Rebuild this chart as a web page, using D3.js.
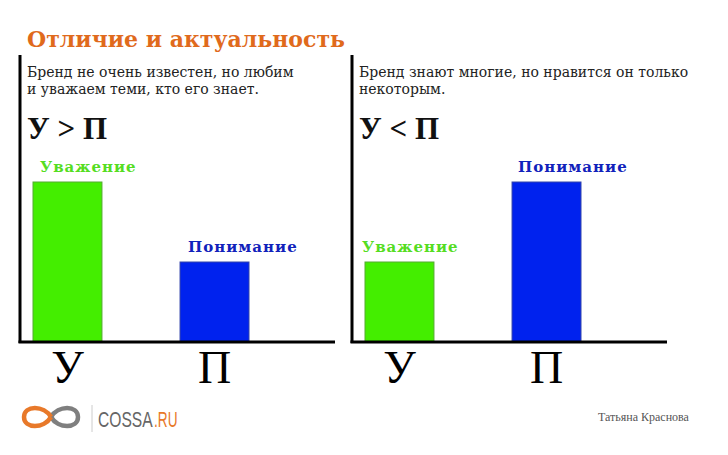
<!DOCTYPE html>
<html><head><meta charset="utf-8">
<script src="https://cdn.jsdelivr.net/npm/d3@7"></script>
<style>body{margin:0;background:#fff}svg{display:block}</style>
</head><body>
<script>
const categories = ["У", "П"];
const seriesNames = ["Уважение", "Понимание"];
const leftValues = [2, 1];
const rightValues = [1, 2];
const title = "Отличие и актуальность";
const leftText = ["Бренд не очень известен, но любим", "и уважаем теми, кто его знает."];
const rightText = ["Бренд знают многие, но нравится он только", "некоторым."];
const leftFormula = "У > П";
const rightFormula = "У < П";
const author = "Татьяна Краснова";

const W = 728, H = 455;
const svg = d3.select("body").append("svg").attr("width", W).attr("height", H);
const serif = "'DejaVu Serif', serif";
const times = "'Liberation Serif', serif";
const barColors = ["#44ee00", "#0022ee"];
const labelColors = ["#55dd22", "#1122bb"];

svg.append("text").attr("x", 27).attr("y", 47).attr("font-family", serif).attr("font-weight", "bold")
  .attr("font-size", 22).attr("fill", "#e06a1c").text(title);

const y = d3.scaleLinear().domain([0, 2]).range([342, 182]);

function panel(x0, texts, formula, values, axisRight, labelOffsets) {
  const g = svg.append("g");
  const x = d3.scaleBand().domain(categories).range([x0, x0 + 242]).paddingInner(0.531).paddingOuter(0.0884);
  texts.forEach((t, i) => g.append("text").attr("x", x0 + 7).attr("y", 77 + i * 17)
    .attr("font-family", serif).attr("font-size", 14).attr("fill", "#222").text(t));
  g.append("text").attr("x", x0 + 7).attr("y", 139).attr("font-family", times).attr("font-weight", "bold")
    .attr("font-size", 31).attr("fill", "#111").text(formula);
  g.selectAll("rect").data(values).join("rect")
    .attr("x", (d, i) => x(categories[i])).attr("width", x.bandwidth())
    .attr("y", d => y(d)).attr("height", d => y(0) - y(d))
    .attr("fill", (d, i) => barColors[i]).attr("stroke", (d,i)=> i? "#3344aa":"#55aa33").attr("stroke-width", 1);
  g.selectAll("text.lab").data(values).join("text").attr("class", "lab")
    .attr("x", (d, i) => x(categories[i]) + labelOffsets[i]).attr("y", d => y(d) - 10)
    .attr("font-family", serif).attr("font-weight", "bold").attr("font-size", 15).attr("letter-spacing", 1)
    .attr("fill", (d, i) => labelColors[i]).text((d, i) => seriesNames[i]);
  g.append("line").attr("x1", x0).attr("x2", x0).attr("y1", 55).attr("y2", 343).attr("stroke", "#000").attr("stroke-width", 3);
  g.append("line").attr("x1", x0 - 1.5).attr("x2", axisRight).attr("y1", y(0)).attr("y2", y(0)).attr("stroke", "#000").attr("stroke-width", 3);
  g.selectAll("text.cat").data(categories).join("text").attr("class", "cat")
    .attr("x", d => x(d) + x.bandwidth() / 2).attr("y", 383).attr("text-anchor", "middle")
    .attr("font-family", times).attr("font-size", 46).attr("fill", "#000").text(d => d);
}
panel(20, leftText, leftFormula, leftValues, 335, [7, 8]);
panel(352, rightText, rightFormula, rightValues, 667, [-3, 6]);

// logo
const lg = svg.append("g");
lg.append("path").attr("d", "M51,417 C58,405 78,405 78,417 C78,429 58,429 51,417")
  .attr("fill", "none").attr("stroke", "#7f7f7f").attr("stroke-width", 4.5);
lg.append("path").attr("d", "M51,417 C44,405 24,405 24,417 C24,429 44,429 51,417")
  .attr("fill", "none").attr("stroke", "#e8792a").attr("stroke-width", 4.5);
lg.append("line").attr("x1", 92).attr("x2", 92).attr("y1", 405).attr("y2", 432).attr("stroke", "#ccc").attr("stroke-width", 1);
const sans = "'Liberation Sans', sans-serif";
lg.append("text").attr("transform", "translate(98,427) scale(0.71,1)").attr("font-family", sans).attr("font-size", 22)
  .attr("fill", "#666").text("COSSA");
lg.append("text").attr("transform", "translate(154,427) scale(0.62,1)").attr("font-family", sans).attr("font-size", 22)
  .attr("fill", "#e8792a").text(".RU");

svg.append("text").attr("x", 598).attr("y", 421).attr("font-family", times).attr("font-size", 12)
  .attr("fill", "#555").text(author);
</script>
</body></html>
